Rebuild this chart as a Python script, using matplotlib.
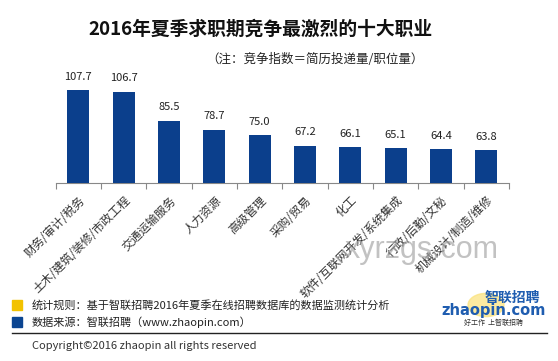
import matplotlib
matplotlib.use("Agg")
import matplotlib.pyplot as plt
from matplotlib.patches import Rectangle, Circle

plt.rcParams["font.family"] = ["Noto Sans CJK SC", "DejaVu Sans"]

jobs = ["财务/审计/税务", "土木/建筑/装修/市政工程", "交通运输服务", "人力资源", "高级管理",
        "采购/贸易", "化工", "软件/互联网开发/系统集成", "行政/后勤/文秘", "机械设计/制造/维修"]
index = [107.7, 106.7, 85.5, 78.7, 75.0, 67.2, 66.1, 65.1, 64.4, 63.8]

title = "2016年夏季求职期竞争最激烈的十大职业"
note = "（注：竞争指数＝简历投递量/职位量）"
rule_text = "统计规则：基于智联招聘2016年夏季在线招聘数据库的数据监测统计分析"
source_text = "数据来源：智联招聘（www.zhaopin.com）"
copyright_text = "Copyright©2016 zhaopin all rights reserved"

W, H = 558, 361
BAR = "#0B3F8C"


def main():
    fig = plt.figure(figsize=(W / 100, H / 100), dpi=100)
    fig.patch.set_facecolor("white")

    # axes placed in pixel terms
    left, right, top, bottom = 55.7, 509, 73.4, 182.7
    ax = fig.add_axes([left / W, 1 - bottom / H, (right - left) / W, (bottom - top) / H])

    x = list(range(len(jobs)))
    ax.bar(x, index, width=0.49, bottom=0, color=BAR, zorder=3)
    ax.set_ylim(40, 120)
    ax.set_xlim(-0.5, len(jobs) - 0.5)

    for xi, v in zip(x, index):
        ax.annotate(f"{v:.1f}", (xi, v), xytext=(0, 6), textcoords="offset points",
                    ha="center", va="bottom", fontsize=8, color="#222222",
                    annotation_clip=False)

    for s in ["top", "right", "left"]:
        ax.spines[s].set_visible(False)
    ax.spines["bottom"].set_color("#888888")
    ax.spines["bottom"].set_linewidth(0.8)
    ax.set_yticks([])

    ax.set_xticks(x)
    ax.set_xticklabels(jobs, rotation=45, ha="right", rotation_mode="anchor",
                       fontsize=8.5, color="#333333")
    ax.tick_params(axis="x", which="major", length=0, pad=8)
    ax.set_xticks([i - 0.5 for i in range(len(jobs) + 1)], minor=True)
    ax.tick_params(axis="x", which="minor", length=4, color="#888888", width=0.8)

    # title and note
    fig.text(260 / W, 1 - 29 / H, title, ha="center", va="center",
             fontsize=13.5, fontweight="bold", color="#111111")
    fig.text(315 / W, 1 - 59 / H, note, ha="center", va="center",
             fontsize=9, color="#222222")

    # watermark
    fig.text(422 / W, 1 - 250 / H, "xyrzgs.com", ha="center", va="center",
             fontsize=22, color="#9a9a9a", alpha=0.6, family="Liberation Sans", zorder=0)

    # footer
    fig.patches.append(Rectangle((12 / W, 1 - 310 / H), 10 / W, 10 / H,
                                 transform=fig.transFigure, color="#F2C200"))
    fig.patches.append(Rectangle((12 / W, 1 - 327 / H), 10 / W, 10 / H,
                                 transform=fig.transFigure, color="#0B4591"))
    fig.text(32 / W, 1 - 305 / H, rule_text, ha="left", va="center", fontsize=8, color="#222222")
    fig.text(32 / W, 1 - 322 / H, source_text, ha="left", va="center", fontsize=8, color="#222222")
    fig.add_artist(plt.Line2D([12 / W, 547 / W], [1 - 333 / H, 1 - 333 / H],
                              transform=fig.transFigure, color="#222222", lw=1))
    fig.text(32 / W, 1 - 346 / H, copyright_text, ha="left", va="center",
             fontsize=8, color="#333333")

    # logo
    fig.patches.append(Circle((486 / W, 1 - 305 / H), 18 / W, transform=fig.transFigure,
                              color="#FBE27A", alpha=0.7))
    fig.text(512 / W, 1 - 298 / H, "智联招聘", ha="center", va="center", fontsize=10,
             fontweight="bold", style="italic", color="#1F5DB0")
    fig.text(494 / W, 1 - 311 / H, "zhaopin.com", ha="center", va="center", fontsize=10.5,
             fontweight="bold", color="#1F5DB0", family="DejaVu Sans")
    fig.text(494 / W, 1 - 323 / H, "好工作  上智联招聘", ha="center", va="center",
             fontsize=5, style="italic", color="#333333")

    fig.savefig("out.png", dpi=100)
    plt.close(fig)


if __name__ == "__main__":
    main()
